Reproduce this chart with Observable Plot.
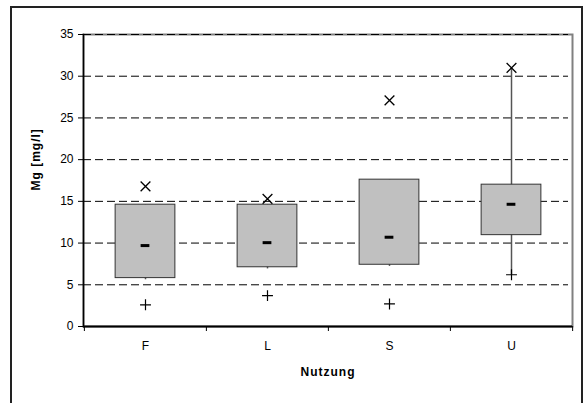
<!DOCTYPE html>
<html>
<head>
<meta charset="utf-8">
<script src="https://cdn.jsdelivr.net/npm/d3@7"></script>
<script src="https://cdn.jsdelivr.net/npm/@observablehq/plot@0.6"></script>
<style>
  html, body { margin: 0; padding: 0; background: #fff; overflow: hidden; width: 588px; height: 403px; }
  #wrap { position: relative; width: 588px; height: 403px; }
  #border { position: absolute; left: 10px; top: 6px; width: 573px; height: 500px; border: 2px solid #222; pointer-events: none; box-sizing: border-box; }
  .lbl { letter-spacing: 1px; }
</style>
</head>
<body>
<div id="wrap"><div id="chart"></div><div id="border"></div></div>
<script>
// Data
const categories = ["F", "L", "S", "U"];
const q1 = [5.8, 7.1, 7.4, 10.95];
const median = [9.7, 10.05, 10.7, 14.65];
const q3 = [14.6, 14.6, 17.6, 17.0];
const whiskerLow = [5.6, 6.9, 7.2, 6.2];
const whiskerHigh = [14.6, 14.6, 17.6, 31.0];
const maxValue = [16.8, 15.3, 27.1, 31.0];
const minValue = [2.6, 3.7, 2.7, 6.2];
const yTicks = [0, 5, 10, 15, 20, 25, 30, 35];

const rows = categories.map((c, i) => ({
  cat: c, q1: q1[i], median: median[i], q3: q3[i],
  wlo: whiskerLow[i], whi: whiskerHigh[i], max: maxValue[i], min: minValue[i]
}));

const W = 588, H = 403, mL = 83, mR = 16, mT = 34, mB = 77;
const bw = (W - mL - mR) / categories.length;
const font = "'Liberation Sans', Arial, sans-serif";

const chart = Plot.plot({
  width: W, height: H,
  marginLeft: mL, marginRight: mR, marginTop: mT, marginBottom: mB,
  style: { fontFamily: font, fontSize: "12px", color: "#000", background: "#fff" },
  x: { type: "band", domain: categories, padding: 0 },
  y: { domain: [0, 35] },
  marks: [
    Plot.frame({ stroke: "#808080", strokeWidth: 2 }),
    Plot.gridY(yTicks.filter(d => d > 0), { stroke: "#000", strokeOpacity: 1, strokeDasharray: "8,4", insetRight: 4 }),
    Plot.ruleX(rows, { x: "cat", y1: "wlo", y2: "whi", stroke: "#555", strokeWidth: 1.5 }),
    Plot.barY(rows, { x: "cat", y1: "q1", y2: "q3", fill: "#c0c0c0", stroke: "#333", strokeWidth: 1, insetLeft: bw / 2 - 30, insetRight: bw / 2 - 30 }),
    Plot.tickY(rows, { x: "cat", y: "median", stroke: "#000", strokeWidth: 3, insetLeft: bw / 2 - 4.5, insetRight: bw / 2 - 4.5 }),
    Plot.dot(rows, { x: "cat", y: "max", symbol: "times", r: 4.5, stroke: "#000", strokeWidth: 1.3 }),
    Plot.dot(rows, { x: "cat", y: "min", symbol: "plus", r: 3.6, stroke: "#000", strokeWidth: 1.2 }),
    Plot.frame({ anchor: "left", stroke: "#000", strokeWidth: 1.5 }),
    Plot.ruleY([0], { stroke: "#000", strokeWidth: 2 }),
    Plot.ruleX(categories, { x: d => d, y1: 0, y2: 0, insetBottom: -5, dx: -bw / 2, stroke: "#000" }),
    Plot.ruleX(categories.slice(-1), { x: d => d, y1: 0, y2: 0, insetBottom: -5, dx: bw / 2, stroke: "#000" }),
    Plot.axisY(yTicks, { tickSize: 5, tickPadding: 5, label: null, fontSize: 12 }),
    Plot.axisX({ tickSize: 0, tickPadding: 15, label: null, fontSize: 12 }),
    Plot.text(["Nutzung"], { frameAnchor: "bottom", dy: 49, fontWeight: "bold", fontSize: 12, className: "lbl" }),
    Plot.text(["Mg [mg/l]"], { frameAnchor: "left", dx: -47, dy: 10, rotate: -90, fontWeight: "bold", fontSize: 12, className: "lbl" })
  ]
});
document.getElementById("chart").appendChild(chart);
</script>
</body>
</html>
